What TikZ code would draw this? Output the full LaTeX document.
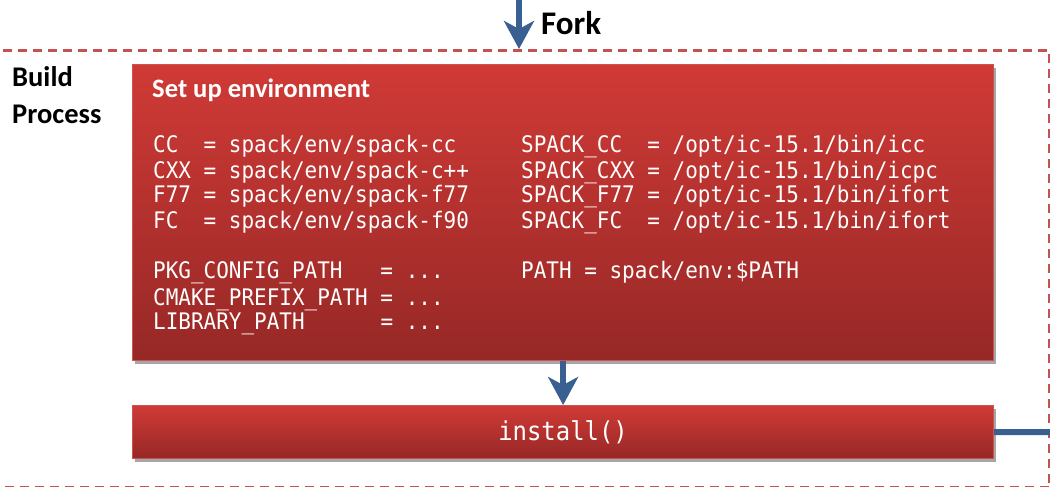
\documentclass[tikz,border=0pt]{standalone}
\usepackage{fontspec}
\setmainfont{Carlito}
\newfontfamily\codefont[FakeStretch=0.92]{DejaVu Sans Mono}
\usetikzlibrary{arrows.meta,shadows}
\definecolor{flowblue}{RGB}{58,95,145}
\definecolor{dashred}{RGB}{196,82,79}
\definecolor{boxtop}{RGB}{208,58,54}
\definecolor{boxbot}{RGB}{150,40,38}
\definecolor{boxedge}{RGB}{200,85,80}
\tikzset{
  redbox/.style={draw=boxedge, line width=1.2pt, top color=boxtop, bottom color=boxbot,
    drop shadow={shadow xshift=2pt, shadow yshift=-3pt, opacity=0.35, fill=black},
    inner sep=0pt, anchor=north west},
  buildbox/.style={draw=dashred, line width=3.5pt, dash pattern=on 9pt off 6pt,
    inner sep=0pt, anchor=north west},
  flow/.style={draw=flowblue, line width=6pt},
  flowhead/.style={-{Stealth[length=28pt,width=30pt,inset=8pt]}},
  code/.style={text=white, font=\codefont\fontsize{22.8}{26}\selectfont, inner sep=0pt, anchor=base west},
  lbl/.style={font=\bfseries\fontsize{28.5}{34}\selectfont, inner sep=0pt, anchor=base west}
}
\begin{document}
\begin{tikzpicture}[x=1pt,y=-1pt]
\useasboundingbox (0,0) rectangle (1050,487);
\clip (0,0) rectangle (1050,487);
% container (left edge lies outside the picture)
\node[buildbox, minimum width=1060pt, minimum height=437pt] (build) at (-12,49) {};
% boxes
\node[redbox, minimum width=861pt, minimum height=296pt] (env) at (132,64) {};
\node[redbox, minimum width=861pt, minimum height=53pt] (install) at (132,405) {};
% labels
\node[lbl] (buildlbl) at (12,87) {Build};
\node[lbl] (processlbl) at (12,124) {Process};
\node[font=\bfseries\fontsize{33}{38}\selectfont, inner sep=0pt, anchor=base west] (forklbl) at (541,35) {Fork};
\node[text=white, font=\bfseries\fontsize{26.6}{30}\selectfont, inner sep=0pt, anchor=base west] (envtitle) at (152,98) {Set up environment};
% code left
\node[code] (l1) at (153,152) {CC\ \ = spack/env/spack-cc};
\node[code] (l2) at (153,178) {CXX = spack/env/spack-c++};
\node[code] (l3) at (153,202) {F77 = spack/env/spack-f77};
\node[code] (l4) at (153,228) {FC\ \ = spack/env/spack-f90};
\node[code] (l5) at (153,278) {PKG\_CONFIG\_PATH\ \ \ = ...};
\node[code] (l6) at (153,305) {CMAKE\_PREFIX\_PATH = ...};
\node[code] (l7) at (153,329) {LIBRARY\_PATH\ \ \ \ \ \ = ...};
% code right
\node[code] (r1) at (521,152) {SPACK\_CC\ \ = /opt/ic-15.1/bin/icc};
\node[code] (r2) at (521,178) {SPACK\_CXX = /opt/ic-15.1/bin/icpc};
\node[code] (r3) at (521,202) {SPACK\_F77 = /opt/ic-15.1/bin/ifort};
\node[code] (r4) at (521,228) {SPACK\_FC\ \ = /opt/ic-15.1/bin/ifort};
\node[code] (r5) at (521,278) {PATH = spack/env:\$PATH};
% install text
\node[text=white, font=\codefont\fontsize{26}{30}\selectfont, inner sep=0pt] (installtxt) at (install.center) {install()};
% connectors
\coordinate (forktop) at (519,-2);
\coordinate (forkend) at (519,49);
\draw[flow, flowhead] (forktop) -- (forkend);
\draw[flow, flowhead] (env.south) -- (install.north);
\coordinate (exit) at (1052,432);
\draw[flow] (install.east) -- (exit);
\end{tikzpicture}
\end{document}
